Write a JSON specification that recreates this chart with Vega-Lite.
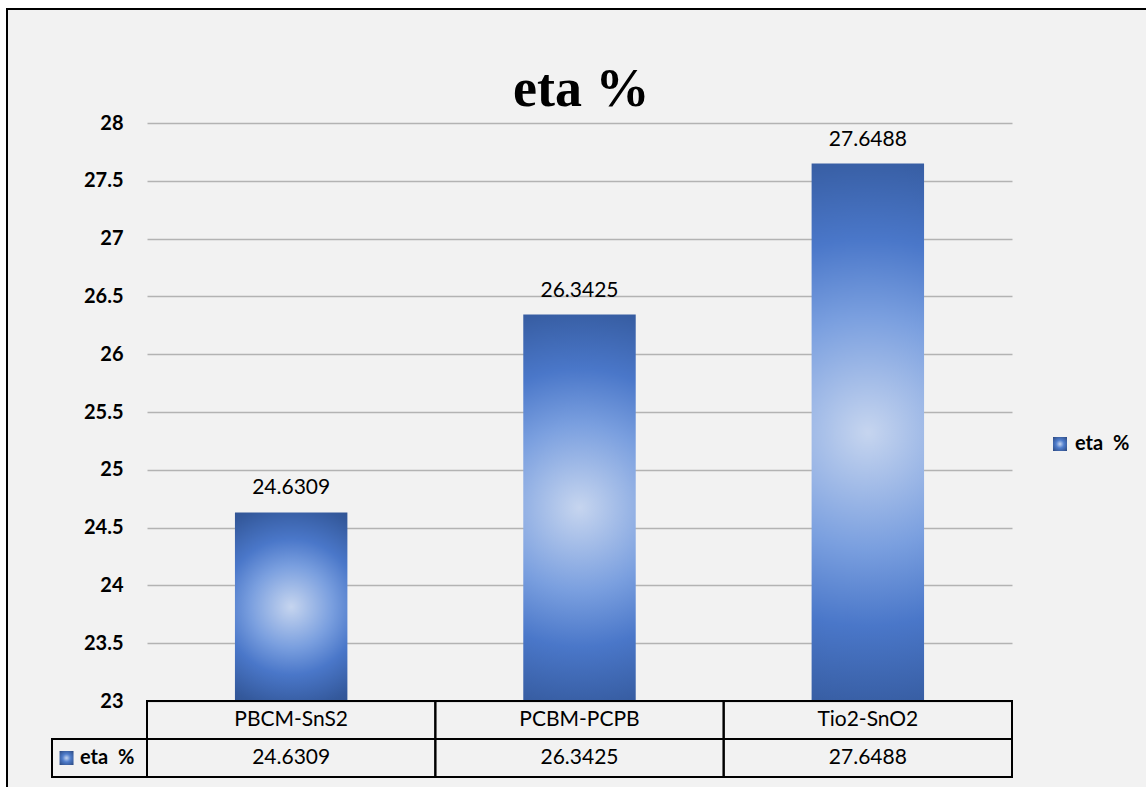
{
  "$schema": "https://vega.github.io/schema/vega-lite/v6.json",
  "width": 1150,
  "height": 784,
  "autosize": "none",
  "padding": {"left": 7, "top": 9, "right": -11, "bottom": -6},
  "background": "white",
  "config": {
    "view": {"fill": "#f2f2f2", "stroke": "black", "strokeWidth": 2},
    "text": {"font": "Lato", "fontSize": 21, "color": "black"}
  },
  "title": {
    "text": "eta %",
    "font": "Liberation Serif",
    "fontSize": 54,
    "fontWeight": "bold",
    "color": "black",
    "anchor": "start",
    "frame": "group",
    "baseline": "alphabetic",
    "offset": -151,
    "dx": 506
  },
  "data": {
    "values": [
      {"device": "PBCM-SnS2", "eta": 24.6309},
      {"device": "PCBM-PCPB", "eta": 26.3425},
      {"device": "Tio2-SnO2", "eta": 27.6488}
    ]
  },
  "layer": [
    {
      "layer": [
        {
          "mark": {
            "type": "bar",
            "width": {"band": 0.39},
            "fill": {
              "gradient": "radial",
              "x1": 0.5, "y1": 0.5, "r1": 0,
              "x2": 0.5, "y2": 0.5, "r2": 0.72,
              "stops": [
                {"offset": 0, "color": "#c6d5ef"},
                {"offset": 0.3, "color": "#7a9fdf"},
                {"offset": 0.5, "color": "#4a77c9"},
                {"offset": 0.75, "color": "#34599c"},
                {"offset": 1, "color": "#2a467c"}
              ]
            }
          },
          "encoding": {
            "x": {
              "field": "device", "type": "nominal", "sort": null, "axis": null,
              "scale": {"range": [140, 1005], "paddingInner": 0, "paddingOuter": 0}
            },
            "y": {
              "field": "eta", "type": "quantitative",
              "scale": {"domain": [23, 28], "range": [692, 114], "nice": false, "zero": false},
              "axis": {
                "values": [23, 23.5, 24, 24.5, 25, 25.5, 26, 26.5, 27, 27.5, 28],
                "format": "~g",
                "offset": -140,
                "domain": false,
                "ticks": false,
                "grid": true,
                "gridColor": "#b3b3b3",
                "gridWidth": 1.5,
                "labelFont": "Lato",
                "labelFontSize": 20,
                "labelFontWeight": "bold",
                "labelColor": "black",
                "labelPadding": 24,
                "title": null
              }
            },
            "y2": {"datum": 23}
          }
        },
        {
          "mark": {"type": "text", "baseline": "middle", "dy": -24},
          "encoding": {
            "x": {"field": "device", "type": "nominal", "sort": null, "axis": null},
            "y": {"field": "eta", "type": "quantitative"},
            "text": {"field": "eta", "type": "quantitative"}
          }
        }
      ]
    },
    {
      "layer": [
        {
          "transform": [{"fold": ["device", "eta"], "as": ["row", "cell"]}],
          "layer": [
            {
              "mark": {"type": "rect", "filled": false, "stroke": "black", "strokeWidth": 2},
              "encoding": {
                "x": {
                  "field": "device", "type": "nominal", "sort": null, "axis": null,
                  "scale": {"range": [140, 1005], "paddingInner": 0, "paddingOuter": 0}
                },
                "y": {
                  "field": "row", "type": "nominal", "axis": null,
                  "scale": {"domain": ["device", "eta"], "range": [692, 768], "paddingInner": 0, "paddingOuter": 0}
                }
              }
            },
            {
              "mark": {"type": "text", "baseline": "middle"},
              "encoding": {
                "x": {"field": "device", "type": "nominal", "sort": null, "axis": null},
                "y": {"field": "row", "type": "nominal", "axis": null},
                "text": {"field": "cell", "type": "nominal"}
              }
            }
          ]
        },
        {
          "data": {"values": [{"series": "eta\u00a0 %"}]},
          "layer": [
            {
              "mark": {"type": "rect", "filled": false, "stroke": "black", "strokeWidth": 2},
              "encoding": {
                "x": {
                  "field": "series", "type": "nominal", "axis": null,
                  "scale": {"range": [45, 140], "paddingInner": 0, "paddingOuter": 0}
                },
                "y": {"datum": "eta", "type": "nominal", "axis": null}
              }
            },
            {
              "mark": {
                "type": "point", "filled": true, "size": 196, "opacity": 1, "strokeWidth": 0,
                "fill": {
                  "gradient": "radial",
                  "x1": 0.5, "y1": 0.5, "r1": 0,
                  "x2": 0.5, "y2": 0.5, "r2": 0.72,
                  "stops": [
                    {"offset": 0, "color": "#c6d5ef"},
                    {"offset": 0.4, "color": "#4f7dcc"},
                    {"offset": 1, "color": "#2a467c"}
                  ]
                }
              },
              "encoding": {
                "x": {"field": "series", "type": "nominal", "axis": null, "bandPosition": 0.153},
                "y": {"datum": "eta", "type": "nominal", "axis": null},
                "shape": {
                  "field": "series", "type": "nominal",
                  "scale": {"range": ["square"]},
                  "legend": {
                    "title": null,
                    "orient": "none",
                    "legendX": 1043,
                    "legendY": 425,
                    "padding": 0,
                    "symbolSize": 196,
                    "symbolStrokeWidth": 0,
                    "symbolFillColor": "#4a77c9",
                    "labelFont": "Lato",
                    "labelFontSize": 20,
                    "labelFontWeight": "bold",
                    "labelColor": "black",
                    "labelOffset": 5,
                    "encode": {
                      "symbols": {
                        "update": {
                          "fill": {
                            "value": {
                              "gradient": "radial",
                              "x1": 0.5, "y1": 0.5, "r1": 0,
                              "x2": 0.5, "y2": 0.5, "r2": 0.72,
                              "stops": [
                                {"offset": 0, "color": "#c6d5ef"},
                                {"offset": 0.4, "color": "#4f7dcc"},
                                {"offset": 1, "color": "#2a467c"}
                              ]
                            }
                          },
                          "strokeWidth": {"value": 0}
                        }
                      }
                    }
                  }
                }
              }
            },
            {
              "mark": {"type": "text", "align": "left", "baseline": "middle", "fontWeight": "bold", "fontSize": 20},
              "encoding": {
                "x": {"field": "series", "type": "nominal", "axis": null, "bandPosition": 0.295},
                "y": {"datum": "eta", "type": "nominal", "axis": null},
                "text": {"field": "series", "type": "nominal"}
              }
            }
          ]
        }
      ],
      "resolve": {"scale": {"x": "independent"}}
    }
  ],
  "resolve": {"scale": {"x": "independent", "y": "independent"}}
}
